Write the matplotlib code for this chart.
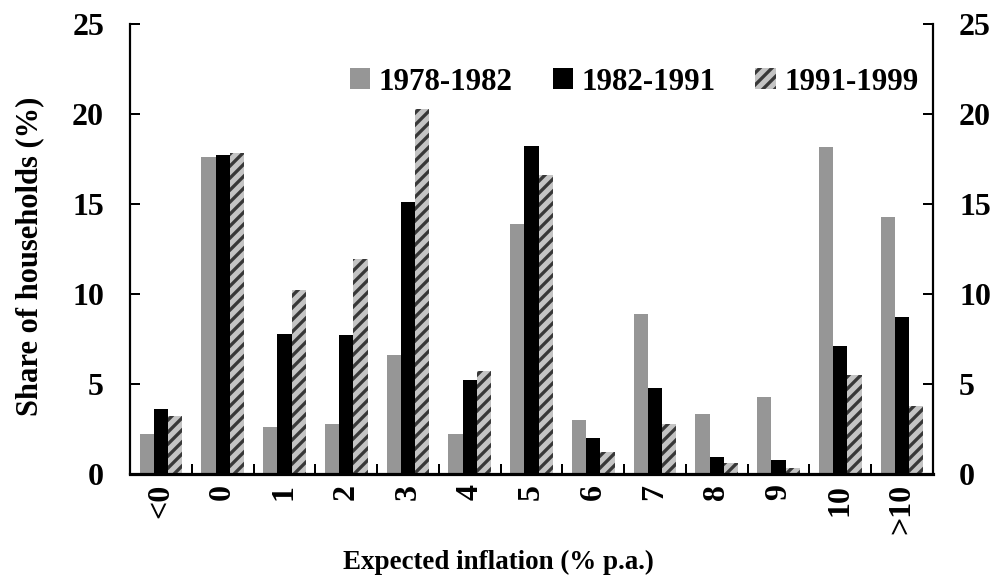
import numpy as np
import matplotlib
matplotlib.use("Agg")
import matplotlib.pyplot as plt
from matplotlib.ticker import FixedLocator, NullFormatter

categories = ["<0", "0", "1", "2", "3", "4", "5", "6", "7", "8", "9", "10", ">10"]
series_names = ["1978-1982", "1982-1991", "1991-1999"]
s1978 = [2.2, 17.6, 2.6, 2.8, 6.6, 2.2, 13.9, 3.0, 8.9, 3.35, 4.3, 18.15, 14.3]
s1982 = [3.6, 17.75, 7.8, 7.75, 15.1, 5.2, 18.2, 2.0, 4.8, 0.95, 0.8, 7.1, 8.75]
s1991 = [3.2, 17.85, 10.2, 11.95, 20.3, 5.7, 16.6, 1.2, 2.8, 0.6, 0.35, 5.5, 3.8]
yticks = [0, 5, 10, 15, 20, 25]

plt.rcParams['font.family'] = ['Liberation Serif', 'DejaVu Serif']
plt.rcParams['font.weight'] = 'bold'
plt.rcParams['hatch.linewidth'] = 3.3

DPI = 72
fig = plt.figure(figsize=(995 / DPI, 575 / DPI), dpi=DPI)
ax = fig.add_axes([130 / 995, (575 - 474) / 575, (933 - 130) / 995, (474 - 24) / 575])

x = np.arange(len(categories))
w = 0.23
b1 = ax.bar(x - w, s1978, w, color='#969696', linewidth=0, label=series_names[0])
b2 = ax.bar(x, s1982, w, color='#000000', linewidth=0, label=series_names[1])
b3 = ax.bar(x + w, s1991, w, color='#c4c4c4', edgecolor='#383838', linewidth=0,
            hatch='//', label=series_names[2])

ax.set_xlim(-0.5, len(categories) - 0.5)
ax.set_ylim(0, 25)

fs = 32
ax.set_yticks(yticks)
ax.set_yticklabels([str(v) for v in yticks])
ax.tick_params(axis='y', which='both', direction='in', length=10, width=2,
               labelsize=fs, pad=26, left=True, right=True,
               labelleft=True, labelright=True)

ax.set_xticks(x)
ax.set_xticklabels(categories, rotation=90, ha='center', va='top')
ax.tick_params(axis='x', which='major', length=0, labelsize=fs, pad=10)
ax.xaxis.set_minor_locator(FixedLocator(np.arange(-0.5, len(categories), 1.0)[1:-1]))
ax.xaxis.set_minor_formatter(NullFormatter())
ax.tick_params(axis='x', which='minor', direction='in', length=10, width=2)

ax.spines['top'].set_visible(False)
ax.spines['left'].set_linewidth(2.2)
ax.spines['right'].set_linewidth(2.2)
ax.spines['bottom'].set_linewidth(3.2)

for lab in ax.get_xticklabels() + ax.get_yticklabels():
    lab.set_fontweight('bold')

fig.text(30 / 995, 1 - 256 / 575, "Share of households (%)", rotation=90,
         ha='center', va='center', fontsize=30.5, fontweight='bold')
fig.text(498 / 995, 1 - 562 / 575, "Expected inflation (% p.a.)",
         ha='center', va='center', fontsize=27, fontweight='bold')

leg = ax.legend(loc='center', bbox_to_anchor=(634 / 995, 1 - 82 / 575),
                bbox_transform=fig.transFigure, ncol=3, frameon=False,
                handlelength=0.65, handleheight=0.65,
                handletextpad=0.27, columnspacing=1.3, borderpad=0,
                prop={'weight': 'bold', 'size': 31})

fig.savefig("out.png", dpi=DPI)
